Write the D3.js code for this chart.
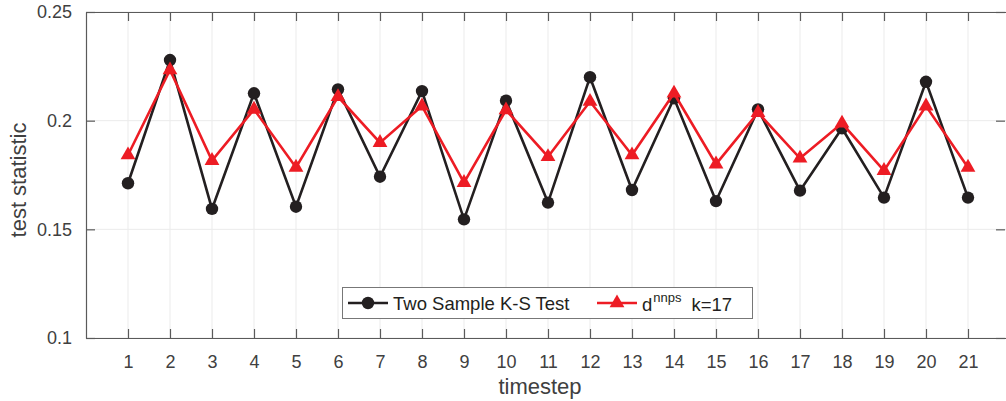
<!DOCTYPE html>
<html>
<head>
<meta charset="utf-8">
<script src="https://cdn.jsdelivr.net/npm/d3@7"></script>
<style>
  body { margin: 0; background: #fff; }
  text { font-family: "Liberation Sans", Arial, sans-serif; }
</style>
</head>
<body>
<div id="chart"></div>
<script>
var timesteps = [1,2,3,4,5,6,7,8,9,10,11,12,13,14,15,16,17,18,19,20,21];
var ksTest = [0.1712,0.2279,0.1594,0.2126,0.1604,0.2144,0.1742,0.2136,0.1546,0.2092,0.1623,
              0.2200,0.1681,0.2103,0.1630,0.2052,0.1678,0.1965,0.1646,0.2179,0.1646];
var dnnps = [0.1842,0.2233,0.1816,0.2052,0.1785,0.2110,0.1899,0.2067,0.1715,0.2049,0.1834,
             0.2088,0.1842,0.2126,0.1800,0.2037,0.1827,0.1988,0.1770,0.2067,0.1785];
var yTicks = [0.1, 0.15, 0.2, 0.25];

function init(){
    var w = 1006, h = 401;
    var left = 86, top = 12, bottom = 338, right = 1010;

    var xScale = d3.scaleLinear().domain([0, 22]).range([left, right]);
    var yScale = d3.scaleLinear().domain([0.1, 0.25]).range([bottom, top]);

    var svg = d3.select("#chart").append("svg")
        .attr("width", w).attr("height", h);

    // grid
    svg.append("g").selectAll("line").data(timesteps).enter().append("line")
        .attr("x1", d => xScale(d)).attr("x2", d => xScale(d))
        .attr("y1", top).attr("y2", bottom)
        .attr("stroke", "#ebebeb").attr("stroke-width", 1);
    svg.append("g").selectAll("line").data(yTicks).enter().append("line")
        .attr("x1", left).attr("x2", right)
        .attr("y1", d => yScale(d)).attr("y2", d => yScale(d))
        .attr("stroke", "#ebebeb").attr("stroke-width", 1);

    var axisColor = "#5a5a5a";
    // axes (ticks mirrored on all four sides)
    var xAxis = d3.axisBottom(xScale).tickValues(timesteps).tickSizeInner(-9).tickSizeOuter(0).tickPadding(17);
    var gx = svg.append("g").attr("transform", `translate(0,${bottom})`).call(xAxis);
    var xTop = d3.axisTop(xScale).tickValues(timesteps).tickSizeInner(-9).tickSizeOuter(0).tickFormat("");
    var gxt = svg.append("g").attr("transform", `translate(0,${top})`).call(xTop);
    var yAxis = d3.axisLeft(yScale).tickValues(yTicks).tickSizeInner(-9).tickSizeOuter(0).tickPadding(14)
        .tickFormat(d => String(+d.toFixed(2)));
    var gy = svg.append("g").attr("transform", `translate(${left},0)`).call(yAxis);
    var yRight = d3.axisRight(yScale).tickValues(yTicks).tickSizeInner(-9).tickSizeOuter(0).tickFormat("");
    var gyr = svg.append("g").attr("transform", `translate(${right - 5},0)`).call(yRight);

    [gx, gxt, gy, gyr].forEach(function(g){
        g.attr("font-size", 18).attr("font-family", "'Liberation Sans', Arial, sans-serif");
        g.select(".domain").attr("stroke", axisColor).attr("stroke-width", 1.2);
        g.selectAll(".tick line").attr("stroke", axisColor).attr("stroke-width", 1.2);
        g.selectAll(".tick text").attr("fill", "#404040");
    });
    gyr.select(".domain").remove();

    // axis labels
    svg.append("text").text("timestep")
        .attr("x", 540).attr("y", 394)
        .attr("text-anchor", "middle").attr("font-size", 22).attr("fill", "#404040");
    svg.append("text").text("test statistic")
        .attr("transform", `translate(26,180) rotate(-90)`)
        .attr("text-anchor", "middle").attr("font-size", 22).attr("fill", "#404040");

    var line = d3.line().x((d, i) => xScale(timesteps[i])).y(d => yScale(d));
    var black = "#231f20", red = "#ed1c24";

    svg.append("path").datum(ksTest).attr("d", line)
        .attr("fill", "none").attr("stroke", black).attr("stroke-width", 2.6);
    svg.append("g").selectAll("circle").data(ksTest).enter().append("circle")
        .attr("cx", (d, i) => xScale(timesteps[i])).attr("cy", d => yScale(d))
        .attr("r", 6.2).attr("fill", black);

    var tri = d3.symbol().type(d3.symbolTriangle).size(95);
    svg.append("path").datum(dnnps).attr("d", line)
        .attr("fill", "none").attr("stroke", red).attr("stroke-width", 2.6);
    svg.append("g").selectAll("path").data(dnnps).enter().append("path")
        .attr("d", tri)
        .attr("transform", (d, i) => `translate(${xScale(timesteps[i])},${yScale(d)})`)
        .attr("fill", red);

    // legend
    var lg = svg.append("g");
    lg.append("rect").attr("x", 342.5).attr("y", 287.5).attr("width", 410).attr("height", 31)
        .attr("fill", "#fff").attr("stroke", "#777").attr("stroke-width", 1);
    var ly = 303;
    lg.append("line").attr("x1", 348).attr("x2", 388).attr("y1", ly).attr("y2", ly)
        .attr("stroke", black).attr("stroke-width", 2.6);
    lg.append("circle").attr("cx", 368).attr("cy", ly).attr("r", 6.2).attr("fill", black);
    lg.append("text").text("Two Sample K-S Test").attr("x", 393).attr("y", ly + 7)
        .attr("font-size", 18.5).attr("fill", "#231f20");
    lg.append("line").attr("x1", 597).attr("x2", 637).attr("y1", ly).attr("y2", ly)
        .attr("stroke", red).attr("stroke-width", 2.6);
    lg.append("path").attr("d", tri).attr("transform", `translate(617,${ly})`).attr("fill", red);
    var t = lg.append("text").attr("x", 642).attr("y", ly + 8).attr("font-size", 18.5).attr("fill", "#231f20");
    t.append("tspan").text("d");
    t.append("tspan").text("nnps").attr("font-size", 13).attr("dy", -9).attr("dx", 1);
    t.append("tspan").text("k=17").attr("dy", 9).attr("dx", 10);
}
window.onload = init;
</script>
</body>
</html>
